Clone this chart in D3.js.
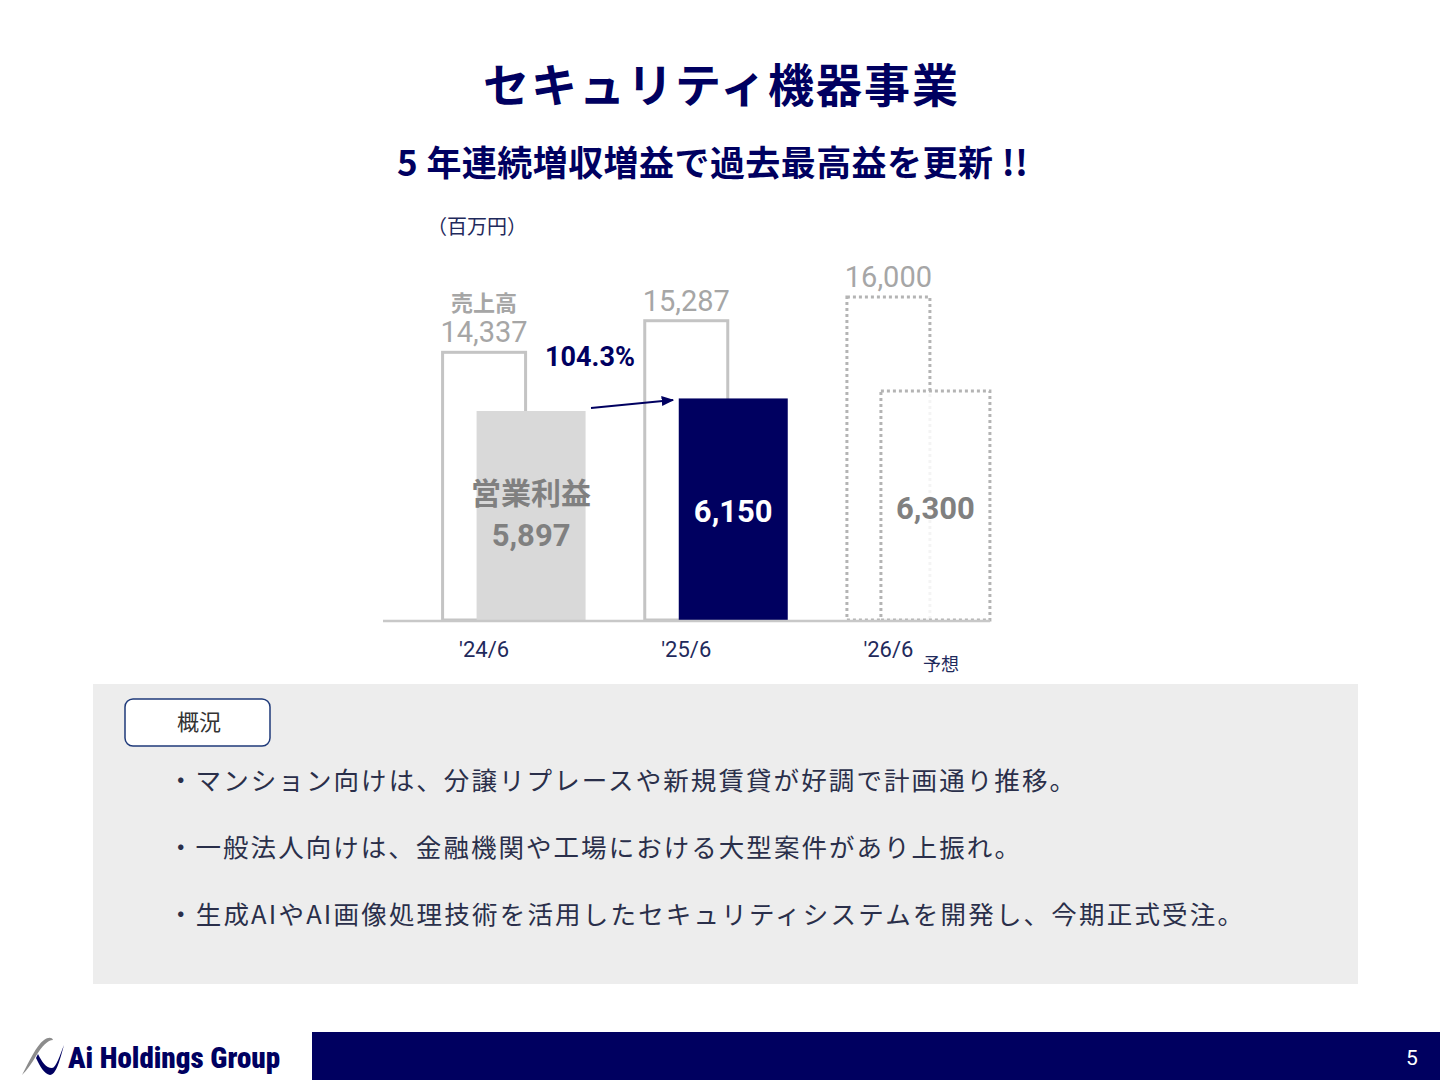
<!DOCTYPE html>
<html><head><meta charset="utf-8">
<script src="https://cdn.jsdelivr.net/npm/d3@7/dist/d3.min.js"></script>
<style>body{margin:0;background:#fff}svg{display:block}</style>
</head><body>
<script>
const categories = ["'24/6", "'25/6", "'26/6"];
const salesValues = [14337, 15287, 16000];
const profitValues = [5897, 6150, 6300];
const forecastFlags = [false, false, true];
const salesLabels = ["14,337", "15,287", "16,000"];
const profitLabels = ["5,897", "6,150", "6,300"];
const growthLabel = "104.3%";
const bullets = [
  "・マンション向けは、分譲リプレースや新規賃貸が好調で計画通り推移。",
  "・一般法人向けは、金融機関や工場における大型案件があり上振れ。",
  "・生成AIやAI画像処理技術を活用したセキュリティシステムを開発し、今期正式受注。"
];

const W = 1440, H = 1080;
const NAVY = "#000060";
const JP = "'Noto Sans CJK JP','Noto Sans',sans-serif";
const NUM = "Roboto,'Noto Sans',sans-serif";
const svg = d3.select("body").append("svg").attr("width", W).attr("height", H);

svg.append("defs").append("marker").attr("id","ah").attr("viewBox","0 0 10 10")
  .attr("refX",9).attr("refY",5).attr("markerWidth",7).attr("markerHeight",7).attr("orient","auto")
  .append("path").attr("d","M0,1 L10,5 L0,9 Z").attr("fill",NAVY);

// titles
svg.append("text").attr("x",483).attr("y",102).attr("textLength",475).attr("lengthAdjust","spacing")
  .attr("font-family",JP).attr("font-weight",700).attr("font-size",46).attr("fill",NAVY)
  .text("セキュリティ機器事業");
svg.append("text").attr("x",397).attr("y",176).attr("textLength",631).attr("lengthAdjust","spacing")
  .attr("font-family",JP).attr("font-weight",700).attr("font-size",35).attr("fill",NAVY)
  .text("5 年連続増収増益で過去最高益を更新 !!");

svg.append("text").attr("x",477).attr("y",234).attr("text-anchor","middle")
  .attr("font-family",JP).attr("font-size",20).attr("fill","#1f2a5c").text("（百万円）");

// scales
const baseY = 620;
const x = d3.scaleBand().domain(categories).range([383.5, 990]).paddingInner(0).paddingOuter(0);
const xc = d => x(d) + x.bandwidth() / 2 - 0.5;
const ySales = d3.scaleLinear().domain([6290, 16000]).range([baseY, 297]);
const yProfit = d3.scaleLinear().domain([1683, 6300]).range([baseY, 391]);
const salesW = 83, profitW = 109, profitOff = 34;

const data = categories.map((c,i)=>({c, s:salesValues[i], p:profitValues[i], f:forecastFlags[i], sl:salesLabels[i], pl:profitLabels[i], i}));

svg.selectAll(".sales").data(data).join("rect")
  .attr("x", d => xc(d.c) - 41.5).attr("y", d => ySales(d.s))
  .attr("width", salesW).attr("height", d => baseY - ySales(d.s))
  .attr("fill","#fff").attr("stroke", d => d.f ? "#b4b4b4" : "#c4c4c4")
  .attr("stroke-width", 3).attr("stroke-dasharray", d => d.f ? "3,3" : null);

svg.selectAll(".profit").data(data).join("rect")
  .attr("x", d => xc(d.c) - 41.5 + profitOff).attr("y", d => yProfit(d.p))
  .attr("width", profitW).attr("height", d => baseY - yProfit(d.p))
  .attr("fill", d => d.i===0 ? "#d9d9d9" : d.i===1 ? NAVY : "#fff")
  .attr("fill-opacity", d => d.f ? 0.85 : 1)
  .attr("stroke", d => d.f ? "#b4b4b4" : "none")
  .attr("stroke-width", 3).attr("stroke-dasharray", d => d.f ? "3,3" : null);

svg.append("line").attr("x1",383).attr("x2",990).attr("y1",baseY+1).attr("y2",baseY+1)
  .attr("stroke","#c8c8c8").attr("stroke-width",2.5);

svg.append("text").attr("x",xc(categories[0])).attr("y",ySales(salesValues[0])-41).attr("text-anchor","middle")
  .attr("font-family",JP).attr("font-weight",700).attr("font-size",22).attr("fill","#a6a6a6").text("売上高");
svg.selectAll(".sl").data(data).join("text")
  .attr("x", d => xc(d.c)).attr("y", d => ySales(d.s) - 10).attr("text-anchor","middle")
  .attr("font-family",NUM).attr("font-size",29).attr("fill","#a6a6a6").text(d => d.sl);

svg.append("text").attr("x",xc(categories[0])+47).attr("y",504).attr("text-anchor","middle")
  .attr("font-family",JP).attr("font-weight",700).attr("font-size",30).attr("fill","#808080").text("営業利益");
svg.selectAll(".pl").data(data).join("text")
  .attr("x", d => xc(d.c) + 47).attr("y", d => d.i===0 ? 546 : d.i===1 ? 522 : 519)
  .attr("text-anchor","middle").attr("font-family",NUM).attr("font-weight",700).attr("font-size",31)
  .attr("fill", d => d.i===1 ? "#fff" : "#808080").text(d => d.pl);

svg.append("text").attr("x",590).attr("y",366).attr("text-anchor","middle")
  .attr("font-family",NUM).attr("font-weight",700).attr("font-size",27).attr("fill",NAVY).text(growthLabel);
svg.append("line").attr("x1",591).attr("y1",408).attr("x2",673).attr("y2",400)
  .attr("stroke",NAVY).attr("stroke-width",1.8).attr("marker-end","url(#ah)");

svg.selectAll(".cat").data(data).join("text")
  .attr("x", d => xc(d.c)).attr("y", 657).attr("text-anchor","middle")
  .attr("font-family",NUM).attr("font-size",22).attr("fill","#1f2a5c").text(d => d.c);
svg.append("text").attr("x",941).attr("y",671).attr("text-anchor","middle")
  .attr("font-family",JP).attr("font-size",18).attr("fill","#1f2a5c").text("予想");

// summary box
svg.append("rect").attr("x",93).attr("y",684).attr("width",1265).attr("height",300).attr("fill","#ededed");
svg.append("rect").attr("x",125).attr("y",699).attr("width",145).attr("height",47).attr("rx",8)
  .attr("fill","#fff").attr("stroke","#1f3a7a").attr("stroke-width",1.5);
svg.append("text").attr("x",199).attr("y",730).attr("text-anchor","middle")
  .attr("font-family",JP).attr("font-size",22).attr("fill","#333").text("概況");
const bulletW = [907, 852, 1075];
svg.selectAll(".b").data(bullets).join("text")
  .attr("x",168).attr("y",(d,i)=>790 + i*67).attr("textLength",(d,i)=>bulletW[i]).attr("lengthAdjust","spacing")
  .attr("font-family",JP).attr("font-size",25.5).attr("fill","#2a2f4a").text(d=>d);

// footer
svg.append("rect").attr("x",312).attr("y",1032).attr("width",W-312).attr("height",48).attr("fill",NAVY);
svg.append("text").attr("x",1412).attr("y",1065).attr("text-anchor","middle")
  .attr("font-family",NUM).attr("font-size",21).attr("fill","#fff").text("5");
svg.append("path").attr("d","M22,1075 C30,1060 36,1046 44,1040 C48,1037 52,1037 53,1040 C48,1040 42,1046 36,1056 C32,1063 27,1070 22,1075 Z").attr("fill","#8c8c8c");
svg.append("path").attr("d","M36,1058 C40,1066 44,1074 50,1075 C56,1075 60,1060 64,1045 C60,1055 56,1068 52,1068 C46,1068 42,1062 38,1054 Z").attr("fill",NAVY);
svg.append("text").attr("x",68).attr("y",1068).attr("textLength",212).attr("lengthAdjust","spacingAndGlyphs")
  .attr("font-family","'Liberation Sans Narrow','Roboto Condensed',Roboto,sans-serif").attr("font-weight",900)
  .attr("font-size",30).attr("fill",NAVY).text("Ai Holdings Group");
</script>
</body></html>
